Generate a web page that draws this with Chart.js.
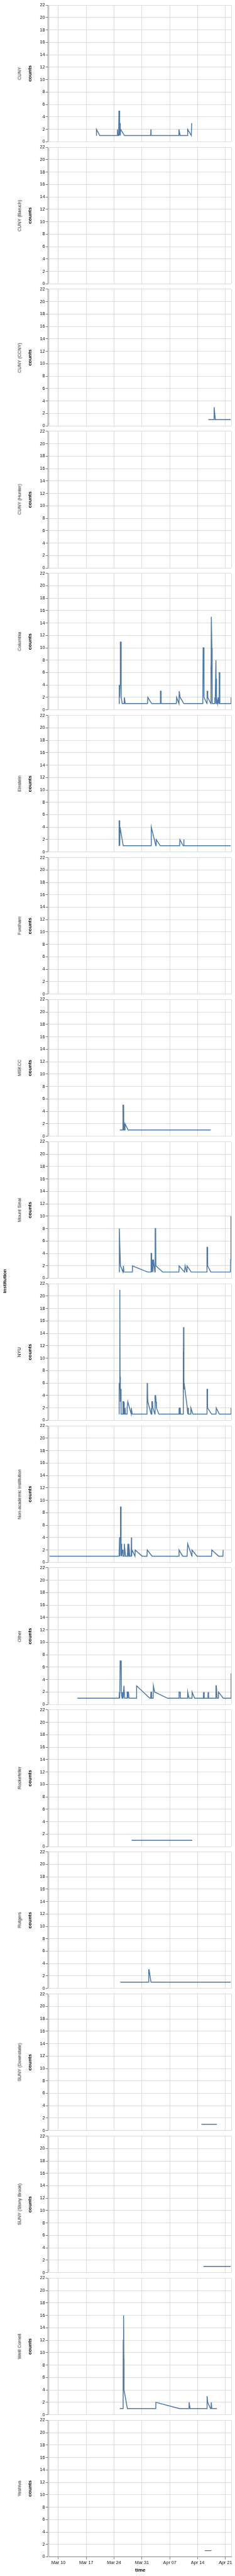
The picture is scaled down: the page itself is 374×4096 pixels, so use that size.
<!DOCTYPE html>
<html>
<head>
<meta charset="utf-8">
<script src="https://cdn.jsdelivr.net/npm/chart.js@4.4.1/dist/chart.umd.min.js"></script>
<style>
  html, body { margin: 0; padding: 0; background: #fff; }
  body { width: 374px; height: 4096px; position: relative; overflow: hidden; font-family: 'Liberation Sans', Arial, sans-serif; }
  .panel { position: absolute; left: 0; width: 374px; }
  .rowlabel { position: absolute; white-space: nowrap; line-height: 1; color: #111; transform: translate(-50%, -50%) rotate(-90deg); }
</style>
</head>
<body>
<script>
// x values are days after Mar 10 (0 = Mar 10), y values are counts
const dayMin = -2.29;
const dayMax = 43.45;
const weekTicks = [0, 7, 14, 21, 28, 35, 42];
const tickLabels = ['Mar 10', 'Mar 17', 'Mar 24', 'Mar 31', 'Apr 07', 'Apr 14', 'Apr 21'];
const countMax = 22;
const countStep = 2;

const institutions = ['CUNY', 'CUNY (Baruch)', 'CUNY (CCNY)', 'CUNY (Hunter)', 'Columbia', 'Einstein',
  'Fordham', 'MSKCC', 'Mount Sinai', 'NYU', 'Non-academic Institution', 'Other', 'Rockefeller',
  'Rutgers', 'SUNY (Downstate)', 'SUNY (Stony Brook)', 'Weill Cornell', 'Yeshiva'];

const cuny = [[9.55,1],[9.57,2],[10.4,1],[14.8,1],[14.85,2],[14.95,1],[15.15,1],[15.22,5],[15.27,1],[15.35,5],
  [15.4,1],[15.5,3],[15.55,1],[15.65,2],[16.6,1],[23.2,1],[23.25,2],[23.3,1],[30.25,1],[30.3,2],[30.6,1],
  [32.45,1],[32.5,2],[33.4,1],[33.5,3]];
const cunyBaruch = [];
const cunyCcny = [[37.7,1],[39.1,1],[39.15,3],[39.45,1],[43.33,1]];
const cunyHunter = [];
const columbia = [[15.22,1],[15.3,4],[15.4,2],[15.5,4],[15.55,11],[15.6,8],[15.7,11],[15.78,2],[16.05,1],
  [16.55,1],[16.6,2],[16.75,2],[16.8,1],[22.4,1],[22.48,2],[23.45,1],[25.6,1],[25.65,3],[25.78,3],[25.82,1],
  [29.65,1],[29.72,2],[30.3,1],[30.37,3],[30.47,3],[30.6,2],[31.55,1],[36.3,1],[36.38,10],[36.52,10],[36.6,2],
  [37.35,1],[37.38,3],[37.46,3],[37.54,2],[38.3,1],[38.34,7],[38.38,3],[38.44,15],[38.5,15],[38.58,10],[38.65,1],
  [39.25,1],[39.33,2],[39.4,1],[39.6,8],[39.68,1],[39.7,5],[39.8,2],[40.0,1],[40.2,2],[40.3,1],[40.42,6],
  [40.52,6],[40.58,1],[43.33,1],[43.42,2]];
const einstein = [[15.24,1],[15.26,5],[15.4,5],[15.42,1],[15.5,4],[16.3,1],[23.3,1],[23.35,4],[24.5,1],
  [24.58,2],[25.6,1],[30.48,1],[30.55,2],[31.35,1],[31.5,1],[31.52,2],[31.58,1],[43.33,1]];
const fordham = [];
const mskcc = [[15.43,1],[16.2,1],[16.23,5],[16.4,5],[16.45,1],[16.55,2],[16.6,1],[16.75,2],[17.53,1],[38.3,1]];
const mountSinai = [[15.28,1],[15.33,8],[15.45,5],[15.6,2],[16.25,1],[16.35,2],[16.45,1],[18.6,1],[18.62,2],
  [22.45,1],[23.25,1],[23.3,4],[23.4,4],[23.45,1],[23.65,3],[23.75,1],[23.9,3],[24.25,1],[24.33,8],[24.45,8],
  [24.5,2],[26.2,1],[30.3,1],[30.35,2],[31.7,1],[31.85,2],[32.25,1],[32.33,2],[33.4,1],[37.3,1],[37.35,5],
  [37.45,5],[37.52,2],[38.3,1],[43.25,1],[43.3,3],[43.35,10],[43.42,10]];
const nyu = [[15.26,1],[15.28,6],[15.35,5],[15.4,21],[15.48,21],[15.5,7],[15.55,3],[15.6,5],[15.7,5],[15.72,3],
  [15.8,1],[16.2,1],[16.23,3],[16.35,3],[16.45,1],[16.52,3],[16.6,1],[16.75,2],[16.85,1],[17.25,1],[17.28,2],
  [17.45,3],[18.3,1],[18.35,2],[18.55,1],[22.28,1],[22.32,6],[22.4,5],[22.48,3],[23.3,1],[23.38,2],[23.45,1],
  [23.5,3],[23.65,3],[23.75,2],[24.25,1],[24.3,4],[24.45,4],[24.55,3],[24.65,2],[25.25,1],[30.3,1],[30.33,2],
  [30.42,1],[30.48,2],[30.62,2],[30.66,1],[31.35,1],[31.38,11],[31.42,3],[31.45,15],[31.53,15],[31.57,5],
  [31.6,6],[32.4,2],[32.5,1],[32.56,2],[32.68,1],[33.25,1],[33.3,2],[33.8,1],[37.33,1],[37.36,5],[37.45,5],
  [37.5,2],[38.5,1],[39.62,1],[39.68,2],[40.45,1],[43.38,1],[43.42,2]];
const nonAcademic = [[-2.29,1],[15.22,1],[15.24,2],[15.3,1],[15.38,4],[15.45,1],[15.5,4],[15.6,4],[15.63,9],
  [15.7,7],[15.74,9],[15.78,1],[15.85,3],[15.92,1],[16.02,2],[16.18,2],[16.27,1],[16.5,1],[16.57,3],[16.88,1],
  [17.35,1],[17.45,3],[17.6,1],[17.7,3],[17.95,1],[18.3,1],[18.35,4],[18.42,1],[18.5,2],[19.25,1],[19.3,2],
  [21.05,1],[22.28,1],[22.33,2],[23.55,1],[30.3,1],[30.33,2],[31.25,1],[32.35,1],[32.5,3],[33.55,1],[33.58,2],
  [34.85,1],[38.48,1],[38.55,2],[40.28,1],[41.35,1],[41.42,2]];
const other = [[4.76,1],[15.28,1],[15.34,2],[15.42,1],[15.52,7],[15.72,7],[15.8,2],[16.0,1],[16.1,2],[16.3,1],
  [16.48,3],[16.58,3],[16.65,1],[17.25,1],[17.28,2],[17.42,2],[17.45,1],[17.5,2],[17.62,2],[17.75,1],[19.62,1],
  [19.66,3],[22.98,1],[23.2,1],[23.25,2],[23.4,2],[23.44,1],[23.82,1],[23.88,3],[24.0,3],[24.2,2],[27.45,1],
  [30.3,1],[30.33,2],[30.6,2],[30.64,1],[32.42,1],[32.5,2],[32.85,1],[33.55,1],[33.6,2],[34.25,1],[36.45,1],
  [36.5,2],[36.65,1],[37.58,1],[37.65,2],[37.75,1],[39.55,1],[39.6,3],[39.7,3],[39.88,1],[40.2,1],[40.24,2],
  [41.43,1],[43.33,1],[43.42,5]];
const rockefeller = [[18.41,1],[33.65,1]];
const rutgers = [[15.55,1],[22.68,1],[22.72,3],[22.8,3],[23.28,1],[43.33,1]];
const sunyDownstate = [[35.94,1],[39.82,1]];
const sunyStonyBrook = [[36.43,1],[43.33,1]];
const weillCornell = [[15.43,1],[16.27,1],[16.3,12],[16.35,16],[16.42,16],[16.46,9],[16.5,4],[17.34,1],
  [24.48,1],[24.5,2],[30.4,1],[32.8,1],[32.85,2],[33.1,1],[37.3,1],[37.35,3],[37.4,3],[37.52,2],[38.22,1],
  [38.38,1],[38.42,2],[38.52,2],[38.58,1],[39.82,1]];
const yeshiva = [[36.78,1],[38.49,1]];

const seriesList = [cuny, cunyBaruch, cunyCcny, cunyHunter, columbia, einstein, fordham, mskcc, mountSinai,
  nyu, nonAcademic, other, rockefeller, rutgers, sunyDownstate, sunyStonyBrook, weillCornell, yeshiva];

// layout (reference size times 0.724)
const S = 0.724;
const W = 374;
const plotLeft = 108.33 * S;
const plotRight = 508.33 * S;
const plotH = 300 * S;
const period = 312 * S;
const firstTop = 11.33 * S;
const axisGap = 3 * S;
const countsLeft = 43.5;
const xAxisH = 25.6;

Chart.defaults.font.family = "'Liberation Sans', Arial, sans-serif";
Chart.defaults.color = '#111';

function addLabel(text, cx, cy, size, bold) {
    let el = document.createElement('div');
    el.className = 'rowlabel';
    el.textContent = text;
    el.style.left = cx + 'px';
    el.style.top = cy + 'px';
    el.style.fontSize = size + 'px';
    if (bold) el.style.fontWeight = 'bold';
    document.body.appendChild(el);
}

function edgeTick(v) {
    return v === dayMin || v === dayMax;
}

for (let i = 0; i < institutions.length; i++) {
    const isLast = i === institutions.length - 1;
    const plotTop = firstTop + i * period;
    const below = isLast ? xAxisH + 4 : 5;

    const divTop = Math.floor(plotTop - 6);
    const divH = Math.ceil(plotTop + plotH + below) - divTop;
    const padTop = plotTop - divTop;
    const padBottom = divH - padTop - plotH - (isLast ? xAxisH : 0);

    let box = document.createElement('div');
    box.className = 'panel';
    box.style.top = divTop + 'px';
    box.style.height = divH + 'px';
    let canvas = document.createElement('canvas');
    box.appendChild(canvas);
    document.body.appendChild(box);

    addLabel(institutions[i], 30.8, plotTop + plotH / 2, 10 * S, false);

    new Chart(canvas, {
        type: 'line',
        data: {
            datasets: [{
                data: seriesList[i],
                borderColor: '#4c78a8',
                borderWidth: 2 * S,
                pointRadius: 0,
                tension: 0,
                fill: false,
                yAxisID: 'y'
            }]
        },
        options: {
            responsive: true,
            maintainAspectRatio: false,
            animation: false,
            events: [],
            layout: {
                padding: { left: countsLeft, right: W - plotRight, top: padTop, bottom: padBottom }
            },
            plugins: { legend: { display: false }, tooltip: { enabled: false } },
            scales: {
                x: {
                    type: 'linear',
                    min: dayMin,
                    max: dayMax,
                    afterBuildTicks: function(scale) {
                        scale.ticks = [dayMin].concat(weekTicks, [dayMax]).map(v => ({ value: v }));
                    },
                    afterFit: function(scale) {
                        scale.height = isLast ? xAxisH : 0;
                    },
                    grid: {
                        color: '#ddd',
                        lineWidth: 1,
                        drawTicks: isLast,
                        tickLength: 5 * S,
                        tickColor: ctx => (ctx.tick && edgeTick(ctx.tick.value)) ? 'rgba(0,0,0,0)' : '#888'
                    },
                    border: { display: isLast, color: '#888' },
                    ticks: {
                        display: isLast,
                        autoSkip: false,
                        maxRotation: 0,
                        padding: 2,
                        color: '#111',
                        font: { size: 10 * S },
                        callback: function(value) {
                            const k = weekTicks.indexOf(value);
                            return k >= 0 ? tickLabels[k] : '';
                        }
                    },
                    title: {
                        display: isLast,
                        text: 'time',
                        color: '#000',
                        padding: { top: 0, bottom: 0 },
                        font: { size: 11 * S, weight: 'bold' }
                    }
                },
                y: {
                    type: 'linear',
                    position: 'left',
                    weight: 0,
                    min: 0,
                    max: countMax,
                    afterFit: function(scale) {
                        scale.width = axisGap;
                    },
                    grid: { color: '#ddd', lineWidth: 1, drawTicks: false },
                    border: { display: false },
                    ticks: { display: false, stepSize: countStep }
                },
                yAxis: {
                    type: 'linear',
                    position: 'left',
                    weight: 1,
                    min: 0,
                    max: countMax,
                    afterFit: function(scale) {
                        scale.width = plotLeft - axisGap - countsLeft;
                    },
                    grid: { drawOnChartArea: false, drawTicks: true, tickLength: 5 * S, tickColor: '#888', color: '#888' },
                    border: { display: true, color: '#888', width: 1 },
                    ticks: {
                        stepSize: countStep,
                        autoSkip: false,
                        padding: 1,
                        color: '#111',
                        font: { size: 10 * S }
                    },
                    title: {
                        display: true,
                        text: 'counts',
                        color: '#000',
                        padding: { top: 0, bottom: 0 },
                        font: { size: 11 * S, weight: 'bold' }
                    }
                }
            }
        }
    });
}

// row-facet title, centred on the stack of panels
addLabel('institution', 7.8, (firstTop + (institutions.length - 1) * period + plotH + firstTop) / 2, 11 * S, true);
</script>
</body>
</html>
